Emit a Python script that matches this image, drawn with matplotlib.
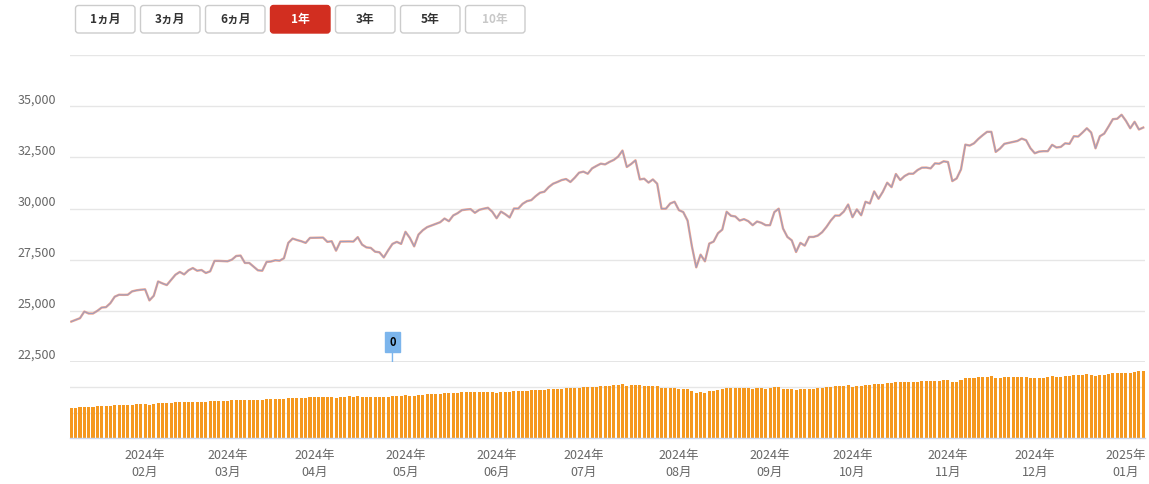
import numpy as np
import pandas as pd
import matplotlib
matplotlib.use("Agg")
import matplotlib.pyplot as plt
from matplotlib.patches import FancyBboxPatch

plt.rcParams['font.family'] = ['Noto Sans CJK JP', 'DejaVu Sans']

# Trading calendar (Japanese business days)
holidays = ['2024-02-12', '2024-02-23', '2024-03-20', '2024-04-29', '2024-05-03',
            '2024-05-06', '2024-07-15', '2024-08-12', '2024-09-16', '2024-09-23',
            '2024-10-14', '2024-11-04', '2024-12-31', '2025-01-01', '2025-01-02',
            '2025-01-03']
dates = pd.bdate_range('2024-01-09', '2025-01-10', freq='C', holidays=holidays)

# Price
price = [
    24475, 24560, 24640, 24965, 24870, 24870, 25000, 25160, 25180, 25375,
    25690, 25785, 25780, 25785, 25950, 26000, 26030, 26050, 25510, 25735,
    26435, 26340, 26260, 26510, 26765, 26900, 26780, 26980, 27090, 26960,
    26995, 26850, 26930, 27440, 27440, 27430, 27420, 27500, 27680, 27700,
    27340, 27340, 27160, 26980, 26960, 27390, 27410, 27470, 27450, 27570,
    28320, 28530, 28460, 28400, 28320, 28565, 28570, 28580, 28580, 28370,
    28400, 27940, 28385, 28390, 28390, 28385, 28600, 28235, 28100, 28075,
    27890, 27860, 27610, 27955, 28270, 28370, 28270, 28860, 28565, 28150,
    28725, 28940, 29090, 29170, 29250, 29330, 29510, 29380, 29660, 29770,
    29920, 29950, 29970, 29790, 29935, 29990, 30035, 29840, 29525, 29850,
    29720, 29560, 30000, 30000, 30230, 30360, 30410, 30605, 30770, 30820,
    31045, 31210, 31295, 31390, 31440, 31295, 31505, 31750, 31800, 31700,
    31960, 32080, 32190, 32155, 32275, 32375, 32535, 32830, 32030, 32175,
    32355, 31420, 31455, 31265, 31420, 31210, 29990, 29990, 30245, 30330,
    29920, 29825, 29410, 28150, 27125, 27745, 27420, 28285, 28385, 28790,
    28970, 29840, 29645, 29610, 29410, 29480, 29380, 29185, 29365, 29300,
    29185, 29185, 29825, 29990, 29020, 28610, 28445, 27875, 28320, 28185,
    28610, 28610, 28675, 28840, 29100, 29410, 29655, 29655, 29850, 30195,
    29575, 29955, 29670, 30330, 30245, 30835, 30475, 30820, 31260, 31045,
    31685, 31390, 31585, 31700, 31700, 31880, 31995, 32000, 31960, 32205,
    32190, 32305, 32270, 31340, 31470, 31910, 33120, 33075, 33185, 33400,
    33580, 33745, 33745, 32765, 32930, 33160, 33205, 33255, 33300, 33415,
    33335, 32945, 32700, 32780, 32800, 32800, 33110, 32980, 33010, 33185,
    33160, 33530, 33515, 33710, 33920, 33710, 32940, 33530, 33660, 34005,
    34365, 34385, 34580, 34285, 33920, 34235, 33860, 33955,
]

# Lower pane bars (relative units, gridlines at 100 / 200)
volume = [
    118, 118, 122, 122, 122, 122, 126, 126, 126, 126,
    130, 130, 130, 130, 130, 134, 134, 134, 130, 134,
    138, 138, 138, 138, 142, 142, 142, 142, 142, 142,
    142, 142, 146, 146, 146, 146, 146, 150, 150, 150,
    150, 150, 150, 150, 150, 154, 154, 154, 154, 154,
    158, 158, 158, 158, 158, 162, 162, 162, 162, 162,
    162, 158, 162, 162, 166, 162, 166, 162, 162, 162,
    162, 162, 162, 162, 166, 166, 166, 170, 166, 166,
    170, 170, 174, 174, 174, 174, 178, 178, 178, 178,
    182, 182, 182, 182, 182, 182, 182, 182, 178, 182,
    182, 182, 186, 186, 186, 186, 190, 190, 190, 190,
    194, 194, 194, 194, 197, 197, 197, 197, 201, 201,
    201, 201, 205, 205, 205, 209, 209, 213, 205, 209,
    209, 209, 205, 205, 205, 205, 197, 197, 197, 197,
    194, 194, 194, 186, 178, 182, 178, 186, 186, 190,
    194, 197, 197, 197, 197, 197, 197, 194, 197, 197,
    194, 197, 201, 201, 194, 194, 194, 190, 194, 194,
    194, 194, 197, 197, 201, 201, 205, 205, 205, 209,
    201, 205, 205, 209, 209, 213, 213, 213, 217, 217,
    221, 221, 221, 221, 221, 221, 225, 225, 225, 225,
    225, 229, 229, 221, 221, 229, 237, 237, 237, 241,
    241, 241, 245, 237, 237, 241, 241, 241, 241, 241,
    241, 237, 237, 237, 237, 241, 245, 241, 241, 245,
    245, 249, 249, 249, 253, 249, 245, 249, 249, 253,
    257, 257, 257, 257, 257, 261, 265, 265,
]

price_ticks = [22500, 25000, 27500, 30000, 32500, 35000, 37500]
price_tick_labels = ['22,500', '25,000', '27,500', '30,000', '32,500', '35,000', '']

flag_dates = ['2024-04-25']
flag_labels = ['0']

buttons = ['1ヵ月', '3ヵ月', '6ヵ月', '1年', '3年', '5年', '10年']
active_button = '1年'
disabled_button = '10年'

n = min(len(dates), len(price), len(volume))
dates = dates[:n]
x = np.arange(n)

W, H = 1149, 484
fig = plt.figure(figsize=(W / 100, H / 100), dpi=100)

left, right = 70 / W, 1145 / W
ax = fig.add_axes([left, (H - 362) / H, right - left, (362 - 55) / H])
axv = fig.add_axes([left, (H - 438) / H, right - left, (438 - 362) / H])

grid_c = '#e6e6e6'
text_c = '#666666'

# price line (two overlapping series)
ax.plot(x, price[:n], color='#f2a58e', lw=1.7, solid_joinstyle='round', zorder=3)
ax.plot(x, price[:n], color='#8f9cc6', lw=0.8, alpha=0.85, solid_joinstyle='round', zorder=4)
ax.set_ylim(22500, 37500)
ax.set_yticks(price_ticks)
ax.set_yticklabels(price_tick_labels)
for lab in ax.get_yticklabels():
    lab.set_verticalalignment('bottom')
ax.tick_params(axis='y', length=0, pad=10, labelsize=9, labelcolor=text_c)
ax.tick_params(axis='x', length=0, labelbottom=False)
ax.grid(axis='y', color=grid_c, lw=1)
ax.set_axisbelow(True)
for s in ax.spines.values():
    s.set_visible(False)
ax.axhline(22500, color='#e3e3e3', lw=2, zorder=1)

# dividend flags
for d, lab in zip(flag_dates, flag_labels):
    i = dates.get_loc(pd.Timestamp(d))
    ax.annotate(lab, xy=(i, 22500), xytext=(0, 20), textcoords='offset pixels',
                ha='center', va='center', fontsize=8, fontweight='bold', color='#000000',
                bbox=dict(boxstyle='square,pad=0.35', fc='#7cb5ec', ec='#7cb5ec'),
                arrowprops=dict(arrowstyle='-', color='#7cb5ec', lw=1, shrinkA=0, shrinkB=0),
                annotation_clip=False, zorder=6)

# bars
axv.bar(x, volume[:n], width=0.7, color='#f5981f', zorder=2)
axv.set_ylim(0, 300)
axv.set_yticks([100, 200])
axv.tick_params(axis='y', length=0, labelleft=False)
axv.grid(axis='y', color=grid_c, lw=1)
axv.set_axisbelow(True)
for s in ['top', 'left', 'right']:
    axv.spines[s].set_visible(False)
axv.spines['bottom'].set_color('#ccd6eb')
axv.spines['bottom'].set_linewidth(1)

# month ticks
pos = pd.Series(x, index=dates)
firsts = pos.groupby(dates.to_period('M')).first().iloc[1:]
tick_pos = firsts.values
tick_lab = [p.strftime('%Y') + '年\n' + p.strftime('%m') + '月' for p in firsts.index]
axv.set_xticks(tick_pos)
axv.set_xticklabels(tick_lab, linespacing=1.35)
axv.tick_params(axis='x', length=0, pad=8, labelsize=9, labelcolor=text_c)

for a in (ax, axv):
    a.set_xlim(-0.3, n - 0.6)

# range selector buttons
bx = fig.add_axes([0, 0, 1, 1])
bx.set_xlim(0, W)
bx.set_ylim(H, 0)
bx.axis('off')
for k, lab in enumerate(buttons):
    x0 = 75.5 + k * 65
    if lab == active_button:
        fc, ec, tc = '#d22e20', '#d22e20', 'white'
    elif lab == disabled_button:
        fc, ec, tc = 'white', '#cccccc', '#c8c8c8'
    else:
        fc, ec, tc = 'white', '#cccccc', '#333333'
    bx.add_patch(FancyBboxPatch((x0, 5.5), 59.5, 27.5,
                                boxstyle='round,pad=0,rounding_size=3',
                                fc=fc, ec=ec, lw=1))
    bx.text(x0 + 29.75, 19.2, lab, ha='center', va='center', fontsize=8.5,
            fontweight='bold', color=tc)

fig.savefig('out.png', dpi=100)
